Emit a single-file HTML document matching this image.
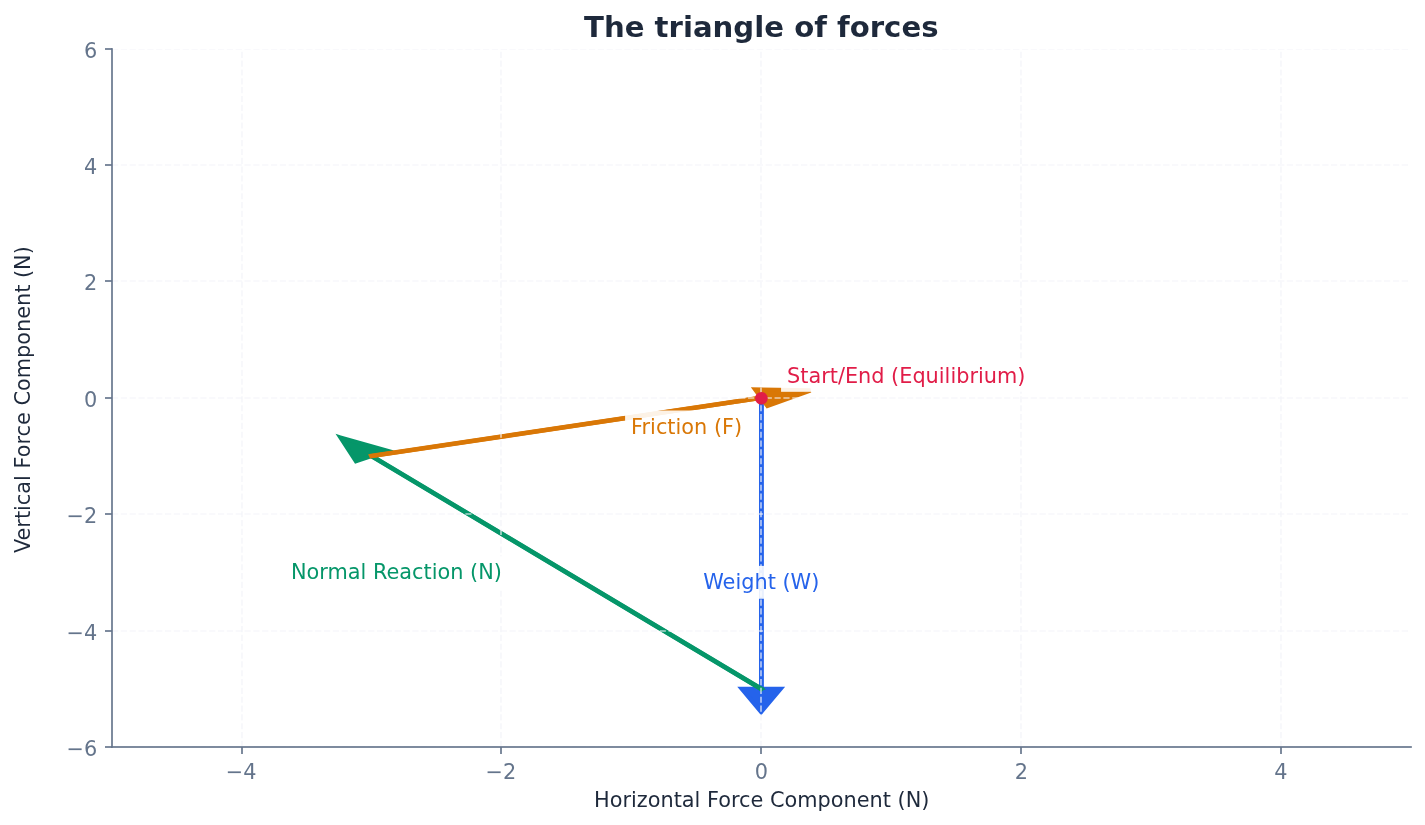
<!DOCTYPE html>
<html lang="en"><head><meta charset="utf-8"><title>The triangle of forces</title>
<style>html,body{margin:0;padding:0;background:#fff;}svg{display:block;}</style>
</head><body>
<svg width="1425" height="825" viewBox="0 0 1425 825">
<rect width="1425" height="825" fill="#ffffff"/>
<g stroke-linejoin="miter" stroke-miterlimit="4.17" stroke-width="4.167">
<path d="M761.20 712.08 L741.72 688.80 L761.14 688.80 L761.14 397.80 L761.26 397.80 L761.26 688.80 L780.69 688.80 L761.20 712.08 Z" fill="#2563eb" stroke="#2563eb"/>
<path d="M761.42 395.72 L761.42 688.80" fill="none" stroke="#2563eb" stroke-width="4.85"/>
<path d="M340.32 437.38 L387.09 450.76 L371.55 455.98 L761.25 688.78 L761.15 688.82 L371.45 456.02 L355.91 461.24 L340.32 437.38 Z" fill="#059669" stroke="#059669"/>
<path d="M762.99 689.87 L371.50 456.00" fill="none" stroke="#059669" stroke-width="4.70"/>
<path d="M810.49 390.44 L767.36 406.08 L761.22 397.83 L371.52 456.03 L371.48 455.97 L761.18 397.77 L755.04 389.52 L810.49 390.44 Z" fill="#d97706" stroke="#d97706"/>
<path d="M369.44 456.31 L761.20 397.80" fill="none" stroke="#d97706" stroke-width="4.60"/>
</g>
<clipPath id="axclip"><rect x="112.00" y="49.00" width="1299.00" height="698.00"/></clipPath>
<g clip-path="url(#axclip)" stroke="#f2f4f8" stroke-opacity="0.70" stroke-width="1.667" stroke-dasharray="6.167 2.667" fill="none">
<path d="M242 747.00 V48.60"/>
<path d="M501 747.00 V48.60"/>
<path d="M761 747.00 V48.60"/>
<path d="M1021 747.00 V48.60"/>
<path d="M1281 747.00 V48.60"/>
<path d="M112.00 49 H1410.70"/>
<path d="M112.00 165 H1410.70"/>
<path d="M112.00 281 H1410.70"/>
<path d="M112.00 398 H1410.70"/>
<path d="M112.00 514 H1410.70"/>
<path d="M112.00 631 H1410.70"/>
<path d="M112.00 747 H1410.70"/>
</g>
<g fill="#64748b" fill-opacity="0.835">
<rect x="241" y="747" width="2" height="7"/>
<rect x="500" y="747" width="2" height="7"/>
<rect x="760" y="747" width="2" height="7"/>
<rect x="1020" y="747" width="2" height="7"/>
<rect x="1280" y="747" width="2" height="7"/>
<rect x="105" y="48" width="7" height="2"/>
<rect x="105" y="164" width="7" height="2"/>
<rect x="105" y="280" width="7" height="2"/>
<rect x="105" y="397" width="7" height="2"/>
<rect x="105" y="513" width="7" height="2"/>
<rect x="105" y="630" width="7" height="2"/>
<rect x="105" y="746" width="7" height="2"/>
<rect x="111" y="48.17" width="2" height="699.67"/>
<rect x="111.17" y="746" width="1300.67" height="2"/>
</g>
<g font-family='"DejaVu Sans", "Liberation Sans", sans-serif'>
<text x="241.10" y="779.00" text-anchor="middle" fill="#64748b" font-size="20.833" >−4</text>
<text x="500.80" y="779.00" text-anchor="middle" fill="#64748b" font-size="20.833" >−2</text>
<text x="761.50" y="779.00" text-anchor="middle" fill="#64748b" font-size="20.833" >0</text>
<text x="1021.50" y="779.00" text-anchor="middle" fill="#64748b" font-size="20.833" >2</text>
<text x="1280.80" y="779.00" text-anchor="middle" fill="#64748b" font-size="20.833" >4</text>
<text x="97.30" y="57.60" text-anchor="end" fill="#64748b" font-size="20.833" >6</text>
<text x="97.30" y="173.60" text-anchor="end" fill="#64748b" font-size="20.833" >4</text>
<text x="97.30" y="289.60" text-anchor="end" fill="#64748b" font-size="20.833" >2</text>
<text x="97.30" y="406.60" text-anchor="end" fill="#64748b" font-size="20.833" >0</text>
<text x="97.30" y="522.60" text-anchor="end" fill="#64748b" font-size="20.833" >−2</text>
<text x="97.30" y="639.60" text-anchor="end" fill="#64748b" font-size="20.833" >−4</text>
<text x="97.30" y="755.60" text-anchor="end" fill="#64748b" font-size="20.833" >−6</text>
<text x="761.30" y="36.50" text-anchor="middle" fill="#1e293b" font-size="29.167" font-weight="bold">The triangle of forces</text>
<text x="761.70" y="807.00" text-anchor="middle" fill="#1e293b" font-size="20.833" >Horizontal Force Component (N)</text>
<text transform="translate(30.00 399.65) rotate(-90)" text-anchor="middle" fill="#1e293b" font-size="20.833">Vertical Force Component (N)</text>
<rect x="697.20" y="565.90" width="128.60" height="32.86" fill="#ffffff" fill-opacity="0.90"/>
<text x="761.25" y="588.60" text-anchor="middle" fill="#2563eb" font-size="20.833" >Weight (W)</text>
<rect x="284.60" y="556.25" width="223.35" height="32.50" fill="#ffffff" fill-opacity="0.90"/>
<text x="501.90" y="579.00" text-anchor="end" fill="#059669" font-size="20.833" >Normal Reaction (N)</text>
<rect x="625.10" y="410.50" width="123.80" height="33.60" fill="#ffffff" fill-opacity="0.90"/>
<text x="631.10" y="433.90" text-anchor="start" fill="#d97706" font-size="20.833" >Friction (F)</text>
<rect x="781.06" y="359.30" width="251.14" height="32.50" fill="#ffffff" fill-opacity="0.90"/>
<text x="787.00" y="382.70" text-anchor="start" fill="#e11d48" font-size="20.833" >Start/End (Equilibrium)</text>
</g>
<circle cx="761.40" cy="398.20" r="6.30" fill="#e11d48"/>
</svg>
</body></html>
